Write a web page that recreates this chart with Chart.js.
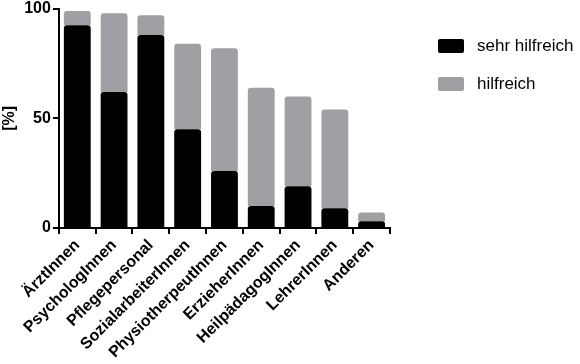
<!DOCTYPE html>
<html>
<head>
<meta charset="utf-8">
<script src="https://cdn.jsdelivr.net/npm/chart.js@4/dist/chart.umd.min.js"></script>
<style>
  body { margin: 0; background: #fff; }
  #wrap { position: relative; width: 580px; height: 364px; }
  #legend { position: absolute; left: 438px; top: 32px; font: 17px "Liberation Sans", Arial, sans-serif; color: #000; }
  .item { display: flex; align-items: center; height: 28px; margin-bottom: 10px; }
  .box { width: 26px; height: 14px; border-radius: 2px; margin-right: 13px; }
</style>
</head>
<body>
<div id="wrap">
  <canvas id="myChart" width="580" height="364"></canvas>
  <div id="legend"></div>
</div>
<script>
const categories = ["ÄrztInnen", "PsychologInnen", "Pflegepersonal", "SozialarbeiterInnen",
  "PhysiotherpeutInnen", "ErzieherInnen", "HeilpädagogInnen", "LehrerInnen", "Anderen"];
const sehrHilfreich = [92.5, 62, 88, 45, 26, 10, 19, 9, 3];
const hilfreich = [6.5, 36, 9, 39, 56, 54, 41, 45, 4];
const yTicks = [0, 50, 100];
const seriesNames = ["sehr hilfreich", "hilfreich"];
const colors = ["#000000", "#a0a0a4"];

const font = "'Liberation Sans', Arial, sans-serif";

let charte = document.getElementById("myChart");
new Chart(charte, {
  type: 'bar',
  data: {
    labels: categories,
    datasets: [
      {
        label: seriesNames[0],
        data: sehrHilfreich,
        backgroundColor: colors[0],
        borderRadius: {topLeft: 3, topRight: 3},
        borderSkipped: false
      }, {
        label: seriesNames[1],
        data: hilfreich,
        backgroundColor: colors[1],
        borderRadius: {topLeft: 3, topRight: 3},
        borderSkipped: false
      }
    ]
  },
  options: {
    responsive: false,
    animation: false,
    layout: {padding: {left: 0, right: 190, top: 0, bottom: 0}},
    datasets: {bar: {barPercentage: 0.73, categoryPercentage: 1}},
    plugins: {legend: {display: false}, tooltip: {enabled: false}},
    scales: {
      x: {
        stacked: true,
        grid: {drawOnChartArea: false, color: '#000', lineWidth: 2, tickLength: 6},
        border: {color: '#000', width: 2},
        ticks: {color: '#000', font: {family: font, size: 16, weight: 'bold'},
          minRotation: 45, maxRotation: 45, padding: 2}
      },
      y: {
        stacked: true,
        min: 0, max: 100,
        afterBuildTicks: (axis) => { axis.ticks = yTicks.map(v => ({value: v})); },
        grid: {drawOnChartArea: false, color: '#000', lineWidth: 2, tickLength: 6},
        border: {color: '#000', width: 2},
        ticks: {color: '#000', font: {family: font, size: 16, weight: 'bold', lineHeight: 0.85}, padding: 2},
        title: {display: true, text: '[%]', color: '#000',
          font: {family: font, size: 16, weight: 'bold'}, padding: {top: 0, bottom: 3}}
      }
    }
  }
});

const legend = document.getElementById("legend");
seriesNames.forEach((name, i) => {
  const item = document.createElement("div");
  item.className = "item";
  const box = document.createElement("span");
  box.className = "box";
  box.style.background = colors[i];
  item.appendChild(box);
  item.appendChild(document.createTextNode(name));
  legend.appendChild(item);
});
</script>
</body>
</html>
